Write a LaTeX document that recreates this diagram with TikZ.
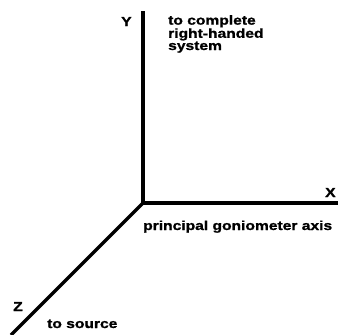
\documentclass[tikz,border=0pt]{standalone}
\usepackage{fontspec}
\setmainfont[FakeStretch=1.2, BoldFeatures={FakeBold=1.2}]{Liberation Sans}
\usetikzlibrary{positioning}

\begin{document}
\begin{tikzpicture}[x=1pt, y=-1pt,
  axisline/.style={line width=3.4pt},
  axlabel/.style={inner sep=0pt, anchor=base west,
                  font=\fontsize{13}{11}\selectfont\bfseries},
  note/.style={inner sep=0pt, anchor=base west, align=left,
               font=\fontsize{13}{11}\selectfont\bfseries}]

  \useasboundingbox (0,0) rectangle (338,335);
  \coordinate (o)    at (143,203);
  \coordinate (ytip) at (143,11);
  \coordinate (xtip) at (338,203);
  \coordinate (ztip) at (11,335);

  \draw[axisline] (ytip) -- (o) -- (xtip);
  \draw[axisline] (o) -- (ztip);

  \node[axlabel] (ylab) at (121,26)  {Y};
  \node[axlabel] (xlab) at (325,197) {X};
  \node[axlabel] (zlab) at (13,311)  {Z};

  % base of a multi-line node is its last line
  \node[note] (rh)   at (168,50)  {to complete\\right-handed\\system};
  \node[note] (gon)  at (143,230) {principal goniometer axis};
  \node[note] (src)  at (47,328)  {to source};
\end{tikzpicture}
\end{document}
